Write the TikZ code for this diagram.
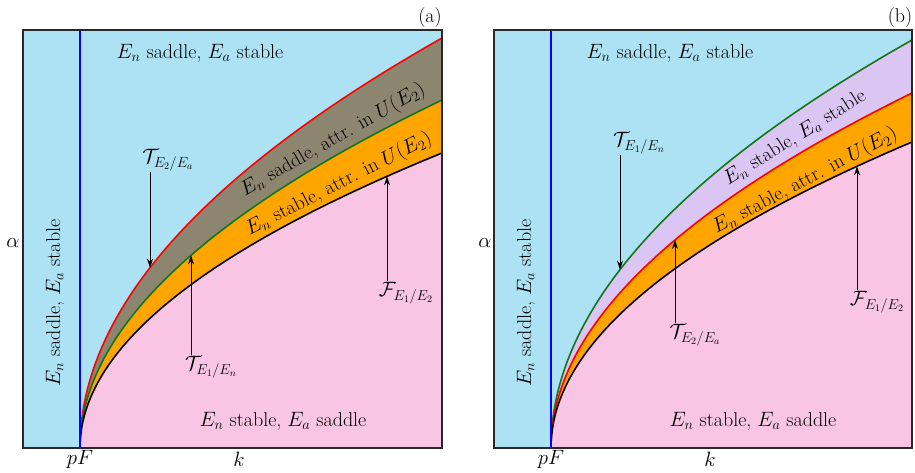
\documentclass[tikz,border=0pt]{standalone}
\usetikzlibrary{arrows.meta}
\definecolor{skyb}{RGB}{173,226,245}
\definecolor{pinkr}{RGB}{248,198,228}
\definecolor{orng}{RGB}{255,165,0}
\definecolor{oliveg}{RGB}{140,134,112}
\definecolor{lilac}{RGB}{218,197,243}
\definecolor{dgreen}{RGB}{25,115,25}
\definecolor{frame}{RGB}{40,40,40}
\begin{document}
\begin{tikzpicture}[x=1pt,y=-1pt,
  every node/.style={font=\fontsize{20}{24}\selectfont, inner sep=1pt},
  smp/.style={domain=0:1,samples=90,variable=\t},
  curveline/.style={line width=1.6pt},
  arr/.style={line width=1pt,-{Stealth[length=9pt,width=6pt]}},
  boxline/.style={draw=frame,line width=1.4pt}]
\useasboundingbox (0,0) rectangle (915,472);
% ---------- panel (a) ----------
\fill[skyb] (23,30) rectangle (442,448);
\fill[oliveg] (80,448) -- plot[smp] ({80+362*\t*\t},{448-410*\t}) -- (442,448) -- cycle;
\fill[orng] (80,448) -- plot[smp] ({80+362*\t*\t},{448-348*\t}) -- (442,448) -- cycle;
\fill[pinkr] (80,448) -- plot[smp] ({80+362*\t*\t},{448-295*\t}) -- (442,448) -- cycle;
\draw[curveline,red] plot[smp] ({80+362*\t*\t},{448-410*\t});
\draw[curveline,dgreen] plot[smp] ({80+362*\t*\t},{448-348*\t});
\draw[curveline,black] plot[smp] ({80+362*\t*\t},{448-295*\t});
\draw[blue,line width=1.8pt] (80,30) -- (80,448);
\draw[boxline] (23,30) rectangle (442,448);
\node (la) at (430,18) {(a)};
\node (ta) at (200,53) {$E_n$ saddle, $E_a$ stable};
\node (ba) at (283,421) {$E_n$ stable, $E_a$ saddle};
\node[rotate=90] (va) at (55,303) {$E_n$ saddle, $E_a$ stable};
\node (alpa) at (13,243) {$\alpha$};
\node (pfa) at (80,459) {$pF$};
\node (ka) at (239,459) {$k$};
\node[rotate=29.7] (ga) at (333,140) {$E_n$ saddle, attr. in $U(E_2)$};
\node[rotate=27] (oa) at (339,184) {$E_n$ stable, attr. in $U(E_2)$};
\node (tea) at (168,160) {$\mathcal{T}_{E_2/E_a}$};
\node (t1a) at (211,367) {$\mathcal{T}_{E_1/E_n}$};
\node (fa) at (406,293) {$\mathcal{F}_{E_1/E_2}$};
\coordinate (pa1) at (150,{448-410*sqrt(70/362)});
\coordinate (pa2) at (191,{448-348*sqrt(111/362)});
\coordinate (pa3) at (387,{448-295*sqrt(307/362)});
\draw[arr] (tea.south -| pa1) -- (pa1);
\draw[arr] (t1a.north -| pa2) -- (pa2);
\draw[arr] (fa.north -| pa3) -- (pa3);
% ---------- panel (b) ----------
\fill[skyb] (494,30) rectangle (912,448);
\fill[lilac] (551,448) -- plot[smp] ({551+361*\t*\t},{448-408*\t}) -- (912,448) -- cycle;
\fill[orng] (551,448) -- plot[smp] ({551+361*\t*\t},{448-355*\t}) -- (912,448) -- cycle;
\fill[pinkr] (551,448) -- plot[smp] ({551+361*\t*\t},{448-306*\t}) -- (912,448) -- cycle;
\draw[curveline,dgreen] plot[smp] ({551+361*\t*\t},{448-408*\t});
\draw[curveline,red] plot[smp] ({551+361*\t*\t},{448-355*\t});
\draw[curveline,black] plot[smp] ({551+361*\t*\t},{448-306*\t});
\draw[blue,line width=1.8pt] (551,30) -- (551,448);
\draw[boxline] (494,30) rectangle (912,448);
\node (lb) at (900,18) {(b)};
\node (tb) at (670,53) {$E_n$ saddle, $E_a$ stable};
\node (bb) at (753,421) {$E_n$ stable, $E_a$ saddle};
\node[rotate=90] (vb) at (526,303) {$E_n$ saddle, $E_a$ stable};
\node (alpb) at (485,243) {$\alpha$};
\node (pfb) at (551,459) {$pF$};
\node (kb) at (710,459) {$k$};
\node[rotate=32] (pb) at (795,138) {$E_n$ stable, $E_a$ stable};
\node[rotate=28] (ob) at (805,181) {$E_n$ stable, attr. in $U(E_2)$};
\node (t1b) at (639,143) {$\mathcal{T}_{E_1/E_n}$};
\node (teb) at (695,335) {$\mathcal{T}_{E_2/E_a}$};
\node (fb) at (877,302) {$\mathcal{F}_{E_1/E_2}$};
\coordinate (pb1) at (620,{448-408*sqrt(69/361)});
\coordinate (pb2) at (675,{448-355*sqrt(124/361)});
\coordinate (pb3) at (857,{448-306*sqrt(306/361)});
\draw[arr] (t1b.south -| pb1) -- (pb1);
\draw[arr] (teb.north -| pb2) -- (pb2);
\draw[arr] (fb.north -| pb3) -- (pb3);
\end{tikzpicture}
\end{document}
